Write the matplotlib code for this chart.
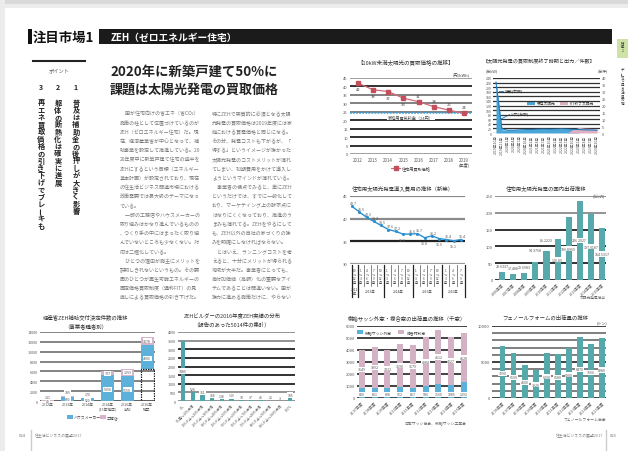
import matplotlib.pyplot as plt
import numpy as np
from matplotlib.patches import Rectangle

plt.rcParams['font.family'] = ['Noto Sans CJK JP', 'DejaVu Sans']

W, H = 628, 452

# ---- データ ----
price_years = ['2012', '2013', '2014', '2015', '2016', '2017', '2018', '2019']
price_vals = [42, 38, 37, 33, 31, 28, 26, 24]
home_price = 24

fit_months = ['2019年10月', '2019年11月', '2020年1月', '2020年4月', '2020年7月', '2020年10月',
              '2021年1月', '2021年4月', '2021年7月', '2021年10月', '2022年1月', '2022年4月',
              '2022年7月', '2022年10月', '2023年1月', '2023年4月', '2023年7月', '2023年10月']
fit_output = [228, 14, 12, 13, 14, 15, 15, 16, 17, 16, 17, 18, 17, 16, 0, 0, 0, 0]
fit_output_new = [0, 0, 0, 0, 0, 0, 0, 0, 0, 0, 0, 0, 0, 16, 24, 21, 20, 18]
fit_count = [37, 3, 2, 2, 2.3, 2.5, 2.5, 2.7, 2.8, 2.7, 2.8, 3, 2.8, 2.6, 2.5, 2.3, 2.2, 2]

cost_vals = [42.7, 41.5, 40.3, 39.4, 38.5, 37.6, 37.2, 36.6, 36.6, 36.7, 35.8, 36.2, 35.6, 35.4, 35.1, 35.4]
cost_quarters = ['10\n〜\n12\n月'] + ['1\n〜\n3\n月', '4\n〜\n6\n月', '7\n〜\n9\n月', '10\n〜\n12\n月'] * 3 + \
                ['1\n〜\n3\n月', '4\n〜\n6\n月', '7\n〜\n9\n月']
cost_years = ['2012\n年', '2013年', '2014年', '2015年', '2016年']

ship_years = ['2006年度', '2007年度', '2008年度', '2009年度', '2010年度',
              '2011年度', '2012年度', '2013年度', '2014年度', '2015年度']
ship_vals = [23.6337, 17.488, 19.6983, 54.3758, 86.2223, 120.89, 186.8969, 236.2027, 197.0187, 154.5317]

zeh_cats = ['2012年', '2013年', '2014年', '2014年\n(15年補正)', '2016年\n当初', '2016年\n補正']
zeh_house = [40, 880, 520, 5296, 5150, 4906]
zeh_local = [131, 185, 170, 737, 1293, 1678]
zeh_prev = [0, 0, 0, 0, 0, 6443]

builder_cats = ['0%', '0%超〜10%未満', '10%以上〜20%未満', '20%以上〜30%未満', '30%以上〜40%未満',
                '40%以上〜50%未満', '50%以上〜60%未満', '60%以上〜70%未満', '70%以上〜80%未満',
                '80%以上〜90%未満', '90%以上〜100%未満', '100%']
builder_vals = [3480, 520, 351, 158, 138, 139, 33, 37, 45, 25, 3, 185]

sash_years = ['2007年度', '2008年度', '2009年度', '2010年度', '2011年度',
              '2012年度', '2013年度', '2014年度', '2015年度']
sash_resin = [820, 851, 808, 912, 857, 986, 1160, 1085, 1293]
sash_comp = [3149, 3392, 3232, 3590, 3579, 4084, 4512, 4027, 4128]

phenol_years = ['2006年度', '2007年度', '2008年度', '2009年度', '2010年度',
                '2011年度', '2012年度', '2013年度', '2014年度', '2015年度']
phenol_vals = [7290, 6190, 4600, 3920, 6290, 6180, 6900, 8470, 7566, 8280]

body = ('　国が住宅向けの省エネ（省CO₂）施策の柱として位置づけているのがZEH（ゼロエネルギー住宅）だ。'
        '現在、経済産業省が中心となって、補助事業を設定して推進している。2020年度中に新築戸建て住宅の過半をZEHにする'
        'という目標（エネルギー基本計画）が設定されており、現在の住生活ビジネス関連市場における政策需要では最大級のテーマになっている。\n'
        '　一部の工務店やハウスメーカーの取り組みはかなり進んでいるものの、つくり手の中にはまったく取り組んでいないところも少なくない。対応は二極化している。\n'
        '　ひとつの理由が施主にメリットを説明しきれないというもの。その要因のひとつが再生可能エネルギーの固定価格買取制度（通称FIT）の見直しによる'
        '買取価格の引き下げだ。特にZEHで実質的に必須となる太陽光発電の買取価格は2019年度には家庭における買電価格と同じになる。'
        'その分、発電コストも下がるが、「得する」というイメージが強かった太陽光発電のコストメリットが薄れてしまい、'
        '初期費用をかけて導入しようというマインドが薄れている。\n'
        '　事業者の視点でみると、単にZEHというだけでは、すでに一般化しており、マーケティング上の訴求点にはなりにくくなっており、'
        '推進のうまみも薄れてる。ZEHをやるにしても、ZEH以外の自社の家づくりの強みを明確にしなければならない。\n'
        '　とはいえ、ランニングコストを考えると、十分にメリットが得られる地域が大半だ。事業者にとっても、高付加価値（高額）化の'
        '重要なアイテムであることは間違いない。国が強力に進める施策だけに、やらないのであれば、やらない理由を顧客から求められる'
        '可能性もある。すべての顧客にZEHを勧めるかは別にしても、中古市場での流通を考えれば、少なくとも断熱性能については、'
        '今すぐにでもクリアしておきたい。実際、こうした施策の流れを背景に、住宅の高断熱化は進んでいる。'
        '高性能な建材の出荷量の増加傾向をみてもわかる。まったなしの状況だ。')

points = ['普及は補助金の後押しが大きく影響', '躯体の断熱化は確実に進展', '再エネ買取価格の引き下げでブレーキも']

# ---- 図 ----
fig = plt.figure(figsize=(6.28, 4.52), dpi=100)
bg = fig.add_axes([0, 0, 1, 1])
bg.set_xlim(0, W)
bg.set_ylim(H, 0)
bg.axis('off')

TICK = '#555555'


def add_ax(x0, y0, x1, y1):
    ax = fig.add_axes([x0 / W, 1 - y1 / H, (x1 - x0) / W, (y1 - y0) / H])
    ax.patch.set_alpha(0)
    for s in ax.spines.values():
        s.set_visible(False)
    ax.tick_params(length=0, labelsize=3, colors=TICK, pad=1.5)
    return ax


def hlines(ax, vals, cols, lw=1.2):
    for v, c in zip(vals, cols):
        ax.axhline(v, color=c, lw=lw, zorder=0)


def wrap(text, width=16):
    lines, cur, w = [], '', 0
    for ch in text:
        if ch == '\n':
            lines.append(cur)
            cur, w = '', 0
            continue
        cw = 0.5 if ord(ch) < 128 else 1
        if w + cw > width:
            lines.append(cur)
            cur, w = '', 0
        cur += ch
        w += cw
    lines.append(cur)
    return lines


def vtext(x, y0, s, pitch, **kw):
    for i, ch in enumerate(s):
        rot = 90 if ch in 'ー' else 0
        bg.text(x, y0 + i * pitch, ch, ha='center', va='center', rotation=rot, **kw)


box = dict(boxstyle='square,pad=0.15', fc='white', ec='none')

# ページ装飾
bg.add_patch(Rectangle((0, 0), W, 5, color='#d9d9d9', lw=0))
bg.add_patch(Rectangle((0, 5), W, 4, color='#ececec', lw=0))
bg.add_patch(Rectangle((0, 0), 5, H, color='#ececec', lw=0))

# 見出し
bg.add_patch(Rectangle((28, 30), 3.5, 15, color='#111111', lw=0))
bg.text(33, 38, '注目市場1', fontsize=9.6, fontweight='bold', va='center', color='#111111')
bg.add_patch(Rectangle((99, 30), 513, 15, color='#1b1b1b', lw=0))
bg.text(111, 37.5, 'ZEH（ゼロエネルギー住宅）', fontsize=7, fontweight='bold', va='center', color='white')

bg.add_patch(Rectangle((617, 40), 11, 19, color='#cfe2a6', lw=0))
vtext(622.5, 44, '特集2', 3.3, fontsize=2.4, color='#333333')
vtext(622.5, 70, 'データで見る注目市場', 3.8, fontsize=2.6, color='#333333')

# ポイント
bg.plot([33, 85], [62, 62], color='#222222', lw=1.5)
bg.text(59, 71, 'ポイント', fontsize=3.8, ha='center', va='center', color='#555555')
for xx, num, txt in zip([76, 58, 41], ['1', '2', '3'], points):
    bg.text(xx, 87, num, fontsize=5, fontweight='bold', ha='center', va='center', color='#222222')
    vtext(xx, 103, txt, 7.25, fontsize=5.2, fontweight='bold', color='#222222')

# タイトル
bg.text(110, 72, '2020年に新築戸建て50%に', fontsize=9.6, fontweight='bold', va='center', color='#222222')
bg.text(110, 89.5, '課題は太陽光発電の買取価格', fontsize=9.4, fontweight='bold', va='center', color='#222222')

# 本文
lines = wrap(body, 16)
for i, ln in enumerate(lines[:42]):
    col, row = divmod(i, 21)
    bg.text(120 + col * 92, 114 + row * 9.2, ln, fontsize=3.6, va='center', color='#7a7a7a')

# フッター
bg.plot([31, 31], [431, 452], color='#cccccc', lw=1)
bg.text(22, 436, '024', fontsize=3, ha='center', va='center', color='#777777')
bg.text(35, 436, '住生活ビジネスの展望2017', fontsize=2.8, va='center', color='#888888')
bg.plot([606, 606], [431, 452], color='#cccccc', lw=1)
bg.text(603, 436, '住生活ビジネスの展望2017', fontsize=2.8, ha='right', va='center', color='#888888')
bg.text(613, 436, '025', fontsize=3, ha='center', va='center', color='#777777')

# ---- A: 10kW未満太陽光の買取価格 ----
bg.text(406, 63, '【10kW未満太陽光の買取価格の推移】', fontsize=4, ha='center', va='center', color='#333333')
ax = add_ax(350, 79, 472, 155)
xa = np.arange(len(price_years))
hlines(ax, range(0, 46, 5), ['#999999', '#222222', '#222222', '#222222', '#222222',
                             '#777777', '#777777', '#777777', '#222222', '#999999'], lw=1.3)
ax.axhline(home_price, color='#3aa3dd', lw=1.1, ls=(0, (1.2, 0.8)), zorder=1)
ax.plot(xa, price_vals, color='#d26c76', lw=0.9, marker='s', ms=3, mfc='#c2505c', mec='#c2505c', zorder=3)
for i, v in enumerate(price_vals):
    dy = -3.6 if i < 4 else 3.6
    ax.text(i, v + dy, str(v), fontsize=3, ha='center', va='center', color='#444444', zorder=4)
ax.text(3.5, 23.2, '家庭用電気料金（24円）', fontsize=3, ha='center', va='top', color='#444444', bbox=box)
ax.set_xlim(-0.53, 7.53)
ax.set_ylim(0, 45)
ax.set_yticks(range(0, 46, 5))
ax.set_xticks(xa, price_years)
ax.tick_params(axis='x', labelsize=3.2, pad=2)
bg.text(470, 76, '(円/kWh)', fontsize=3, ha='right', va='center', color='#444444')
bg.text(464, 165, '(年度)', fontsize=3, ha='center', va='center', color='#444444')
bg.plot([391, 400], [169, 169], color='#d26c76', lw=0.8)
bg.plot([395.5], [169], marker='s', ms=3, color='#c2505c')
bg.text(402, 169, '住宅用買取価格', fontsize=3, va='center', color='#444444')

# ---- B: 買取制度終了時期 ----
bg.text(539, 62, '【太陽光発電の買取制度終了時期と出力／件数】', fontsize=3.7, ha='center', va='center', color='#333333')
ax = add_ax(493, 79, 600, 134)
xb = np.arange(len(fit_months))
hlines(ax, range(0, 241, 20), ['#333333'] * 13, lw=0.9)
ax.fill_between(xb, fit_output, color='#4aa6d6', lw=0, zorder=2)
ax.fill_between(xb, fit_output_new, color='#dfb0c4', lw=0, zorder=2)
ax.set_xlim(-0.5, 17.5)
ax.set_ylim(0, 240)
ax.set_yticks(range(0, 241, 20))
ax.set_xticks(xb, fit_months, rotation=90)
ax.tick_params(labelsize=2.6, pad=1)
ax2 = ax.twinx()
for s in ax2.spines.values():
    s.set_visible(False)
ax2.plot(xb, fit_count, color='#1c7cc0', lw=0.8, zorder=3)
ax2.set_ylim(0, 40)
ax2.set_yticks(range(0, 41, 5))
ax2.tick_params(length=0, labelsize=2.8, colors=TICK, pad=1.5)
bg.text(486, 71, '(万kW)', fontsize=2.8, va='center', color='#444444')
bg.text(608, 71, '(万件)', fontsize=2.8, ha='right', va='center', color='#444444')
bg.plot([499, 505], [92, 92], color='#1c7cc0', lw=0.6)
bg.text(505, 92, '件数(右軸)', fontsize=2.8, va='center', color='#333333', bbox=box)
bg.plot([499, 511], [121, 115], color='#1c7cc0', lw=0.6)
bg.text(511, 115, '出力(左軸)', fontsize=2.8, va='center', color='#333333', bbox=box)
bg.add_patch(Rectangle((524, 100.5), 75, 7.5, color='white', lw=0, zorder=5))
bg.add_patch(Rectangle((527, 102.3), 8, 4, color='#4aa6d6', lw=0, zorder=6))
bg.text(536.5, 104.3, '既存太陽光', fontsize=2.7, va='center', color='#333333', zorder=6)
bg.add_patch(Rectangle((560, 102.3), 8, 4, color='#dfb0c4', lw=0, zorder=6))
bg.text(569.5, 104.3, 'FIT終了太陽光', fontsize=2.7, va='center', color='#333333', zorder=6)

# ---- C: 導入費用 ----
bg.text(403, 188, '住宅用太陽光発電導入費用の推移（新築）', fontsize=3.9, ha='center', va='center', color='#333333')
ax = add_ax(350, 197, 465, 265)
xc = np.arange(len(cost_vals))
hlines(ax, [30, 35, 40, 45], ['#9a9a9a', '#222222', '#8a8a8a', '#8a8a8a'], lw=1.6)
ax.plot(xc, cost_vals, color='#2b8fd1', lw=1, marker='o', ms=1.2, zorder=3)
below = [7, 10, 12, 14]
for i, v in enumerate(cost_vals):
    if i in below:
        ax.text(i, v - 1.2, f'{v}', fontsize=2.6, ha='center', va='center', color='#555555')
    else:
        ax.text(i + 0.25, v + 0.7, f'{v}', fontsize=2.6, ha='center', va='center', color='#555555')
ax.set_xlim(-0.28, 15.55)
ax.set_ylim(30, 45)
ax.set_yticks([30, 35, 40, 45])
ax.set_xticks([])
# 表
bounds = [352, 357.5, 383.5, 412.5, 441.5, 465]
nq = [1, 4, 4, 4, 3]
k = 0
for j in range(5):
    x0, x1 = bounds[j], bounds[j + 1]
    w = (x1 - x0) / nq[j]
    for q in range(nq[j]):
        cx = x0 + (q + 0.5) * w
        bg.text(cx, 277, cost_quarters[k], fontsize=2.3, ha='center', va='center',
                color='#444444', linespacing=0.95)
        if q > 0:
            bg.plot([x0 + q * w] * 2, [266, 287], color='#555555', lw=0.5)
        k += 1
    bg.text((x0 + x1) / 2, 292, cost_years[j], fontsize=2.4, ha='center', va='center',
            color='#444444', linespacing=0.9)
for b in bounds:
    bg.plot([b, b], [266, 298], color='#222222', lw=0.9)

# ---- D: 国内出荷 ----
bg.text(546, 188, '住宅用太陽光発電の国内出荷推移', fontsize=3.9, ha='center', va='center', color='#333333')
bg.text(605, 196, '(万kW)', fontsize=2.9, ha='right', va='center', color='#444444')
ax = add_ax(495, 197, 606, 281)
xd = np.arange(len(ship_vals))
hlines(ax, range(0, 251, 50), ['#222222', '#222222', '#222222', '#222222', '#8a8a8a', '#8a8a8a'], lw=1.3)
ax.bar(xd, ship_vals, width=0.55, color='#58a9ab', zorder=2)
above_dy = [18, 18, 18, 36, 33]
for i, v in enumerate(ship_vals):
    if i < 5:
        ax.text(i, v + above_dy[i], f'{v}', fontsize=2.6, ha='center', va='center', color='#555555', zorder=4)
    else:
        ax.text(i, v / 2, f'{v}', fontsize=2.6, ha='center', va='center', color='#555555', bbox=box, zorder=4)
ax.set_xlim(-0.63, 9.36)
ax.set_ylim(0, 250)
ax.set_yticks(range(0, 251, 50))
ax.set_xticks(xd, ship_years, rotation=45, ha='right', rotation_mode='anchor')
ax.tick_params(axis='x', labelsize=2.7, pad=1.5)
bg.text(606, 298, '太陽光発電協会', fontsize=2.7, ha='right', va='center', color='#666666')

# ---- E: ZEH補助 ----
bg.text(86, 317, '経産省ZEH補助交付決定件数の推移', fontsize=3.9, ha='center', va='center', color='#333333')
bg.text(86, 326, '（事業者種者別）', fontsize=3.9, ha='center', va='center', color='#333333')
ax = add_ax(40, 333, 155, 402)
xe = np.arange(len(zeh_cats))
hlines(ax, range(0, 14001, 2000), ['#555555'] + ['#7a7a7a'] * 7, lw=1.3)
zp = np.array(zeh_prev)
zh = np.array(zeh_house)
zl = np.array(zeh_local)
for i in xe:
    if zp[i] > 0:
        ax.bar(i, zp[i], width=0.65, fill=False, edgecolor='#222222', lw=0.9, ls=(0, (1.2, 0.8)), zorder=3)
ax.bar(xe, zh, bottom=zp, width=0.65, color='#5bb1d9', zorder=2)
ax.bar(xe, zl, bottom=zp + zh, width=0.65, color='#d7b3c9', zorder=2)
for i in xe:
    if zh[i] > 1500:
        ax.text(i, zp[i] + zh[i] * 0.45, str(zh[i]), fontsize=2.6, ha='center', va='center', color='#555555', bbox=box, zorder=4)
        ax.text(i, zp[i] + zh[i] + zl[i] / 2, str(zl[i]), fontsize=2.6, ha='center', va='center', color='#555555', bbox=box, zorder=4)
    else:
        ax.text(i, zp[i] + zh[i] / 2, str(zh[i]), fontsize=2.4, ha='center', va='center', color='#555555', bbox=box, zorder=4)
        ax.text(i, zp[i] + zh[i] + zl[i] + 700, str(zl[i]), fontsize=2.6, ha='center', va='center', color='#555555', bbox=box, zorder=4)
ax.set_xlim(-0.4, 5.4)
ax.set_ylim(0, 14000)
ax.set_yticks(range(0, 14001, 2000))
ax.set_xticks(xe, zeh_cats)
ax.tick_params(axis='x', labelsize=2.7, pad=1)
ax.tick_params(axis='y', labelsize=2.7)
bg.add_patch(Rectangle((67, 416), 6, 4, color='#5bb1d9', lw=0))
bg.text(74, 418, 'ハウスメーカー', fontsize=2.8, va='center', color='#444444')
bg.add_patch(Rectangle((100, 416), 6, 4, color='#d7b3c9', lw=0))
bg.text(107, 418, '工務店', fontsize=2.8, va='center', color='#444444')

# ---- F: ZEHビルダー ----
bg.text(232, 316, 'ZEHビルダーの2016年度ZEH実績の分布', fontsize=3.9, ha='center', va='center', color='#333333')
bg.text(232, 325, '（報告のあった5014件の集計）', fontsize=3.9, ha='center', va='center', color='#333333')
ax = add_ax(178, 333, 295, 402)
xf = np.arange(len(builder_vals))
hlines(ax, range(0, 4001, 500), ['#8a8a8a', '#8a8a8a', '#222222', '#222222', '#222222',
                                 '#222222', '#222222', '#8a8a8a', '#8a8a8a'], lw=1.3)
ax.bar(xf, builder_vals, width=0.45, color='#4fa5a7', zorder=2)
for i, v in enumerate(builder_vals):
    if v > 1000:
        ax.text(i, v * 0.5, str(v), fontsize=2.5, ha='center', va='center', color='#555555', bbox=box, zorder=4)
    else:
        ax.text(i, v + 180, str(v), fontsize=2.5, ha='center', va='center', color='#555555', bbox=box, zorder=4)
ax.set_xlim(-0.51, 11.51)
ax.set_ylim(0, 4000)
ax.set_yticks(range(0, 4001, 500))
ax.set_xticks(xf, builder_cats, rotation=45, ha='right', rotation_mode='anchor')
ax.tick_params(axis='x', labelsize=2.3, pad=1.5)
ax.tick_params(axis='y', labelsize=2.7)

# ---- G: 樹脂サッシ ----
bg.text(407, 318, '樹脂サッシ外窓・複合窓の出荷量の推移（千窓）', fontsize=3.9, ha='center', va='center', color='#333333')
ax = add_ax(357, 327, 467, 399)
xg = np.arange(len(sash_years))
hlines(ax, range(0, 6001, 1000), ['#222222'] * 7, lw=1.2)
ax.bar(xg, sash_resin, width=0.47, color='#5bb1d9', zorder=2)
ax.bar(xg, sash_comp, bottom=sash_resin, width=0.47, color='#d3b2c6', zorder=2)
for i in xg:
    ax.text(i, 300, str(sash_resin[i]), fontsize=2.6, ha='center', va='center', color='#555555', bbox=box, zorder=4)
    ax.text(i, sash_resin[i] + sash_comp[i] / 2, str(sash_comp[i]), fontsize=2.6, ha='center', va='center',
            color='#555555', bbox=box, zorder=4)
ax.set_xlim(-0.39, 8.24)
ax.set_ylim(0, 6000)
ax.set_yticks(range(0, 6001, 1000))
ax.set_xticks(xg, sash_years, rotation=45, ha='right', rotation_mode='anchor')
ax.tick_params(axis='x', labelsize=2.8, pad=1.5)
bg.add_patch(Rectangle((357, 331), 6, 4, color='#5bb1d9', lw=0, zorder=5))
bg.text(365, 333, '樹脂サッシ外窓', fontsize=2.8, va='center', color='#444444', bbox=box, zorder=5)
bg.add_patch(Rectangle((398, 331), 6, 4, color='#d3b2c6', lw=0, zorder=5))
bg.text(407, 333, '複合材料窓', fontsize=2.8, va='center', color='#444444', bbox=box, zorder=5)
bg.text(466, 423, '日本サッシ協会、樹脂サッシ工業会', fontsize=2.8, ha='right', va='center', color='#666666')

# ---- H: フェノールフォーム ----
bg.text(545, 318, 'フェノールフォームの出荷量の推移', fontsize=3.9, ha='center', va='center', color='#333333')
bg.text(607, 323, '(トン)', fontsize=2.9, ha='right', va='center', color='#444444')
ax = add_ax(492, 327, 606, 399)
xh = np.arange(len(phenol_vals))
hlines(ax, range(0, 10001, 1000), ['#222222', '#6a6a6a', '#6a6a6a', '#6a6a6a', '#6a6a6a', '#222222',
                                   '#6a6a6a', '#6a6a6a', '#6a6a6a', '#6a6a6a', '#222222'], lw=1.2)
ax.bar(xh, phenol_vals, width=0.5, color='#56a9ab', zorder=2)
for i, v in enumerate(phenol_vals):
    ax.text(i, v * 0.47, str(v), fontsize=2.6, ha='center', va='center', color='#555555', bbox=box, zorder=4)
ax.set_xlim(-0.97, 9.36)
ax.set_ylim(0, 10000)
ax.set_yticks([0, 5000, 10000])
ax.set_xticks(xh, phenol_years, rotation=45, ha='right', rotation_mode='anchor')
ax.tick_params(axis='x', labelsize=2.8, pad=1.5)
bg.text(606, 420, 'フェノールフォーム協会', fontsize=2.8, ha='right', va='center', color='#666666')

fig.savefig('out.png', dpi=100)
